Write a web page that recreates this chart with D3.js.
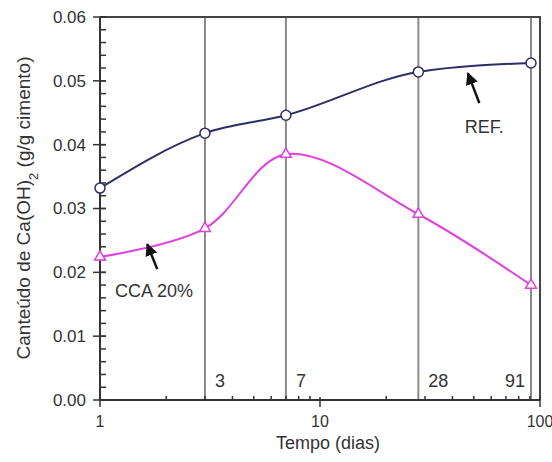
<!DOCTYPE html>
<html>
<head>
<meta charset="utf-8">
<script src="https://cdn.jsdelivr.net/npm/d3@7"></script>
<style>
  body { margin: 0; background: #fff; }
  svg text { font-family: Arial, "Liberation Sans", sans-serif; fill: #333; }
</style>
</head>
<body>
<div id="chart"></div>
<script>
// data
const days = [1, 3, 7, 28, 91];
const refValues = [0.0332, 0.0418, 0.0446, 0.0514, 0.0528];
const ccaValues = [0.0224, 0.0269, 0.0385, 0.0291, 0.0180];
const markerDays = [3, 7, 28, 91];
const markerLabels = ['3', '7', '28', '91'];
const yTicks = [0, 0.01, 0.02, 0.03, 0.04, 0.05, 0.06];
const xTicks = [1, 10, 100];

const width = 552;
const height = 462;
const margin = { top: 17, right: 12, bottom: 62, left: 100 };

const svg = d3.select('#chart')
  .append('svg')
  .attr('width', width)
  .attr('height', height);

const x = d3.scaleLog().domain([1, 100]).range([margin.left, width - margin.right]);
const y = d3.scaleLinear().domain([0, 0.06]).range([height - margin.bottom, margin.top]);

// vertical reference lines at the test ages
svg.append('g')
  .selectAll('line')
  .data(markerDays)
  .enter()
  .append('line')
  .attr('x1', d => x(d))
  .attr('x2', d => x(d))
  .attr('y1', y(0.06))
  .attr('y2', y(0))
  .attr('stroke', '#8a8a8a')
  .attr('stroke-width', 2);

svg.append('g')
  .selectAll('text')
  .data(markerDays)
  .enter()
  .append('text')
  .attr('x', (d, i) => (i === 3 ? x(d) - 6 : x(d) + 10))
  .attr('y', y(0) - 13)
  .attr('text-anchor', (d, i) => (i === 3 ? 'end' : 'start'))
  .style('font-size', '18px')
  .text((d, i) => markerLabels[i]);

// frame (top and right)
svg.append('path')
  .attr('d', `M${x(1)},${y(0.06)}H${x(100)}V${y(0)}`)
  .attr('fill', 'none')
  .attr('stroke', '#444')
  .attr('stroke-width', 2);

// y axis
const yAxis = svg.append('g');
yAxis.append('line')
  .attr('x1', x(1)).attr('x2', x(1))
  .attr('y1', y(0.06)).attr('y2', y(0))
  .attr('stroke', '#333').attr('stroke-width', 2);
yAxis.selectAll('.minor')
  .data(y.ticks(30))
  .enter()
  .append('line')
  .attr('x1', x(1)).attr('x2', x(1) + 6)
  .attr('y1', d => y(d)).attr('y2', d => y(d))
  .attr('stroke', '#333').attr('stroke-width', 1.5);
yAxis.selectAll('.major')
  .data(yTicks)
  .enter()
  .append('line')
  .attr('x1', x(1) - 7).attr('x2', x(1) + 6)
  .attr('y1', d => y(d)).attr('y2', d => y(d))
  .attr('stroke', '#333').attr('stroke-width', 1.5);
yAxis.selectAll('text')
  .data(yTicks)
  .enter()
  .append('text')
  .attr('x', x(1) - 14)
  .attr('y', d => y(d))
  .attr('dy', '0.35em')
  .attr('text-anchor', 'end')
  .style('font-size', '17px')
  .text(d => d3.format('.2f')(d));

// x axis
const xAxis = svg.append('g');
xAxis.append('line')
  .attr('x1', x(1)).attr('x2', x(100))
  .attr('y1', y(0)).attr('y2', y(0))
  .attr('stroke', '#333').attr('stroke-width', 2);
xAxis.selectAll('.minor')
  .data(x.ticks().filter(d => !xTicks.includes(d)))
  .enter()
  .append('line')
  .attr('x1', d => x(d)).attr('x2', d => x(d))
  .attr('y1', y(0)).attr('y2', y(0) - 4)
  .attr('stroke', '#333').attr('stroke-width', 1.5);
xAxis.selectAll('.major')
  .data(xTicks)
  .enter()
  .append('line')
  .attr('x1', d => x(d)).attr('x2', d => x(d))
  .attr('y1', y(0) - 3).attr('y2', y(0) + 7)
  .attr('stroke', '#333').attr('stroke-width', 1.5);
xAxis.selectAll('text')
  .data(xTicks)
  .enter()
  .append('text')
  .attr('x', d => x(d))
  .attr('y', y(0) + 21)
  .attr('dy', '0.35em')
  .attr('text-anchor', 'middle')
  .style('font-size', '16px')
  .text(d => d);

// axis titles
svg.append('text')
  .attr('x', 328)
  .attr('y', 449)
  .attr('text-anchor', 'middle')
  .style('font-size', '18px')
  .text('Tempo (dias)');

const yTitle = svg.append('text')
  .attr('transform', 'translate(30,208) rotate(-90)')
  .attr('text-anchor', 'middle')
  .style('font-size', '19px');
yTitle.append('tspan').text('Canteúdo de  Ca(OH)');
yTitle.append('tspan').attr('baseline-shift', 'sub').style('font-size', '13px').text('2');
yTitle.append('tspan').text('  (g/g cimento)');

// series
const refLine = d3.line()
  .x(d => x(d[0]))
  .y(d => y(d[1]))
  .curve(d3.curveMonotoneX);

const ccaLine = d3.line()
  .x(d => x(d[0]))
  .y(d => y(d[1]))
  .curve(d3.curveCatmullRom.alpha(0.5));

const refData = days.map((d, i) => [d, refValues[i]]);
const ccaData = days.map((d, i) => [d, ccaValues[i]]);

svg.append('path')
  .attr('d', refLine(refData))
  .attr('fill', 'none')
  .attr('stroke', '#2e2e66')
  .attr('stroke-width', 2);

svg.append('path')
  .attr('d', ccaLine(ccaData))
  .attr('fill', 'none')
  .attr('stroke', '#e040e0')
  .attr('stroke-width', 2);

svg.append('g')
  .selectAll('circle')
  .data(refData)
  .enter()
  .append('circle')
  .attr('cx', d => x(d[0]))
  .attr('cy', d => y(d[1]))
  .attr('r', 5)
  .attr('fill', '#fff')
  .attr('stroke', '#2e2e66')
  .attr('stroke-width', 1.5);

const tri = d3.symbol().type(d3.symbolTriangle).size(50);
svg.append('g')
  .selectAll('path')
  .data(ccaData)
  .enter()
  .append('path')
  .attr('d', tri)
  .attr('transform', d => `translate(${x(d[0])},${y(d[1])})`)
  .attr('fill', '#fff')
  .attr('stroke', '#e040e0')
  .attr('stroke-width', 1.5);

// annotations
svg.append('defs')
  .append('marker')
  .attr('id', 'head')
  .attr('viewBox', '0 0 10 10')
  .attr('refX', 9)
  .attr('refY', 5)
  .attr('markerWidth', 5)
  .attr('markerHeight', 5)
  .attr('orient', 'auto')
  .append('path')
  .attr('d', 'M0,0L10,5L0,10z')
  .attr('fill', '#111');

const arrows = [
  { from: [53, 0.0465], to: [47, 0.0512] },
  { from: [1.82, 0.0205], to: [1.64, 0.0244] },
];
svg.append('g')
  .selectAll('line')
  .data(arrows)
  .enter()
  .append('line')
  .attr('x1', d => x(d.from[0]))
  .attr('y1', d => y(d.from[1]))
  .attr('x2', d => x(d.to[0]))
  .attr('y2', d => y(d.to[1]))
  .attr('stroke', '#111')
  .attr('stroke-width', 2.5)
  .attr('marker-end', 'url(#head)');

svg.append('text')
  .attr('x', x(45.5))
  .attr('y', y(0.0418))
  .style('font-size', '18px')
  .text('REF.');

svg.append('text')
  .attr('x', x(1.17))
  .attr('y', y(0.0162))
  .style('font-size', '18px')
  .text('CCA 20%');
</script>
</body>
</html>
